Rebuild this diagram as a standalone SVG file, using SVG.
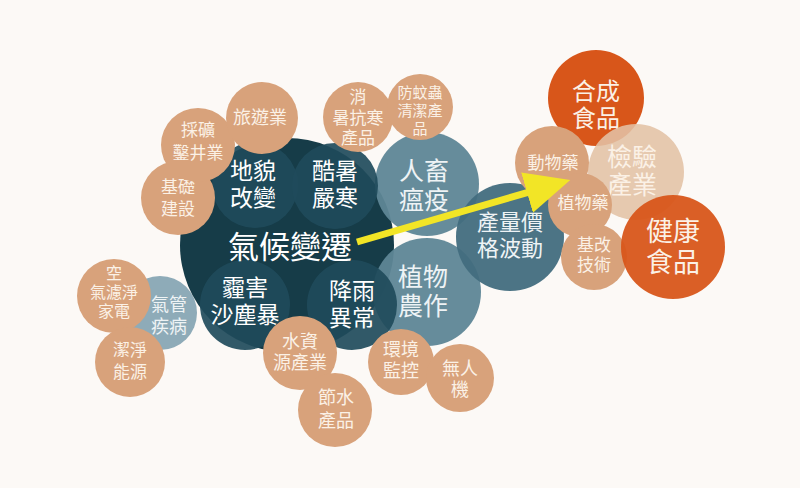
<svg xmlns="http://www.w3.org/2000/svg" width="800" height="488" viewBox="0 0 800 488">
<defs>
<style>
text{font-family:"Liberation Sans","Noto Sans CJK TC","Noto Sans CJK SC",sans-serif;text-anchor:middle;dominant-baseline:central}
.tan{fill:#d8a27b}
.tanT{fill:#fbf1e6}
.dk{fill:#163c48}
.sub{fill:#1f4b5b;fill-opacity:0.92}
.lt{fill:#5e8696;fill-opacity:0.95}
.md{fill:#426d7e;fill-opacity:0.95}
.pale{fill:#8eabb8}
.org{fill:#d8561a}
.beige{fill:#e3c1a5;fill-opacity:0.88}
.wt{fill:#ffffff}
.wt2{fill:#eef3f5}
</style>
<marker id="ah" markerUnits="userSpaceOnUse" markerWidth="46" markerHeight="42" refX="1" refY="21" orient="auto">
<path d="M0,0 L45,21 L0,42 z" fill="#f2e526"/>
</marker>
</defs>
<rect width="800" height="488" fill="#fcf9f6"/>

<g id="n-qiguan"><circle class="pale" cx="160" cy="313" r="37"/><text class="wt2" font-size="18"><tspan x="169" y="305">氣管</tspan><tspan x="169" y="327">疾病</tspan></text></g>
<g id="n-climate"><circle class="dk" cx="287" cy="245" r="107"/></g>
<g id="n-renchu"><circle class="lt" cx="427" cy="184" r="52"/><text class="wt2" font-size="25"><tspan x="424" y="171">人畜</tspan><tspan x="424" y="200">瘟疫</tspan></text></g>
<g id="n-zhiwu"><circle class="lt" cx="427" cy="292" r="54"/><text class="wt2" font-size="25"><tspan x="423" y="277">植物</tspan><tspan x="423" y="306">農作</tspan></text></g>
<g id="n-dimao"><circle class="sub" cx="255" cy="185" r="43"/><text class="wt" font-size="23"><tspan x="253" y="171">地貌</tspan><tspan x="253" y="198">改變</tspan></text></g>
<g id="n-kushu"><circle class="sub" cx="335" cy="186" r="43"/><text class="wt" font-size="23"><tspan x="335" y="171">酷暑</tspan><tspan x="335" y="198">嚴寒</tspan></text></g>
<g id="n-maihai"><circle class="sub" cx="245" cy="305" r="45"/><text class="wt" font-size="23"><tspan x="245" y="288">霾害</tspan><tspan x="245" y="315">沙塵暴</tspan></text></g>
<g id="n-jiangyu"><circle class="sub" cx="352" cy="305" r="45"/><text class="wt" font-size="23"><tspan x="352" y="291">降雨</tspan><tspan x="352" y="318">異常</tspan></text></g>
<g id="n-climate-label"><text class="wt" x="290" y="247" font-size="31">氣候變遷</text></g>
<g id="n-chanliang"><circle class="md" cx="510" cy="237" r="54"/><text class="wt2" font-size="22"><tspan x="510" y="222">產量價</tspan><tspan x="510" y="248">格波動</tspan></text></g>

<g id="n-kongqi"><circle class="tan" cx="114" cy="296" r="37"/><text class="tanT" font-size="16"><tspan x="114" y="273">空</tspan><tspan x="114" y="292">氣濾淨</tspan><tspan x="114" y="311">家電</tspan></text></g>
<g id="n-jiejing"><circle class="tan" cx="130" cy="362" r="35"/><text class="tanT" font-size="17"><tspan x="130" y="350">潔淨</tspan><tspan x="130" y="372">能源</tspan></text></g>
<g id="n-jichu"><circle class="tan" cx="178" cy="198" r="37"/><text class="tanT" font-size="17"><tspan x="178" y="187">基礎</tspan><tspan x="178" y="209">建設</tspan></text></g>
<g id="n-caikuang"><circle class="tan" cx="198" cy="145" r="37"/><text class="tanT" font-size="17"><tspan x="198" y="130">採礦</tspan><tspan x="198" y="153">鑿井業</tspan></text></g>
<g id="n-lvyou"><circle class="tan" cx="262" cy="118" r="36"/><text class="tanT" x="260" y="118" font-size="18">旅遊業</text></g>
<g id="n-xiaoshu"><circle class="tan" cx="358" cy="117" r="35"/><text class="tanT" font-size="17"><tspan x="358" y="97">消</tspan><tspan x="358" y="118">暑抗寒</tspan><tspan x="358" y="138">產品</tspan></text></g>
<g id="n-fangwen"><circle class="tan" cx="420" cy="107" r="33"/><text class="tanT" font-size="15"><tspan x="420" y="92">防蚊蟲</tspan><tspan x="420" y="110">清潔產</tspan><tspan x="420" y="128">品</tspan></text></g>
<g id="n-shuizi"><circle class="tan" cx="300" cy="353" r="37"/><text class="tanT" font-size="18"><tspan x="300" y="342">水資</tspan><tspan x="300" y="363">源產業</tspan></text></g>
<g id="n-jieshui"><circle class="tan" cx="335" cy="410" r="37"/><text class="tanT" font-size="18"><tspan x="336" y="398">節水</tspan><tspan x="336" y="421">產品</tspan></text></g>
<g id="n-huanjing"><circle class="tan" cx="401" cy="362" r="33"/><text class="tanT" font-size="18"><tspan x="401" y="350">環境</tspan><tspan x="401" y="371">監控</tspan></text></g>
<g id="n-wurenji"><circle class="tan" cx="460" cy="378" r="34"/><text class="tanT" font-size="18"><tspan x="460" y="369">無人</tspan><tspan x="460" y="390">機</tspan></text></g>

<g id="n-hecheng"><circle class="org" cx="596" cy="98" r="48"/><text class="tanT" font-size="24"><tspan x="596" y="91">合成</tspan><tspan x="596" y="118">食品</tspan></text></g>
<g id="n-jianyan"><circle class="beige" cx="636" cy="172" r="48"/><text class="tanT" font-size="25"><tspan x="632" y="157">檢驗</tspan><tspan x="632" y="185">產業</tspan></text></g>
<g id="n-dongwu"><circle class="tan" cx="552" cy="163" r="37"/><text class="tanT" x="553" y="163" font-size="17">動物藥</text></g>
<g id="n-zhiwuyao"><circle class="tan" cx="580" cy="205" r="32"/><text class="tanT" x="583" y="203" font-size="17">植物藥</text></g>
<g id="n-jigai"><circle class="tan" cx="594" cy="257" r="33"/><text class="tanT" font-size="17"><tspan x="594" y="245">基改</tspan><tspan x="594" y="265">技術</tspan></text></g>
<g id="n-jiankang"><circle class="org" cx="673" cy="247" r="52" fill-opacity="0.95"/><text class="tanT" font-size="27"><tspan x="673" y="232">健康</tspan><tspan x="673" y="263">食品</tspan></text></g>

<g id="connectors">
<line x1="357" y1="242" x2="528" y2="192.3" stroke="#f2e526" stroke-width="7" marker-end="url(#ah)"/>
</g>
</svg>
